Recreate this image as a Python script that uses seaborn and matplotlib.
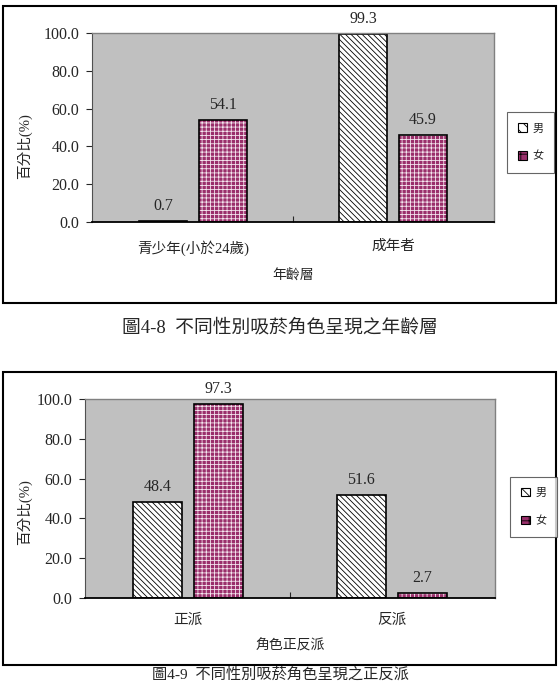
import matplotlib
matplotlib.use("Agg")
import matplotlib.pyplot as plt
from matplotlib.patches import Rectangle, Patch
import seaborn as sns
import pandas as pd

# data
sexes = ["男", "女"]
age_groups = ["青少年(小於24歲)", "成年者"]
age_male = [0.7, 99.3]
age_female = [54.1, 45.9]
role_groups = ["正派", "反派"]
role_male = [48.4, 51.6]
role_female = [97.3, 2.7]
yticks = [0, 20, 40, 60, 80, 100]
xlabels = ["年齡層", "角色正反派"]
ylabel = "百分比(%)"
captions = ["圖4-8  不同性別吸菸角色呈現之年齡層",
            "圖4-9  不同性別吸菸角色呈現之正反派"]

sns.set_style("white")
plt.rcParams["font.family"] = ["Liberation Serif", "Noto Sans CJK TC"]
plt.rcParams["hatch.linewidth"] = 0.6

MALE_HATCH = "\\" * 6
FEMALE_FACE = "#9a2f6b"
FEMALE_HATCH = "++++"
W, H = 560, 682


def fx(px):
    return px / W


def fy(py):
    return 1 - py / H


def draw_panel(ax, groups, male, female, xlabel, ylab_xy, tick_pad):
    df = pd.DataFrame({
        "group": groups * 2,
        "sex": [sexes[0]] * len(groups) + [sexes[1]] * len(groups),
        "pct": male + female,
    })
    sns.barplot(data=df, x="group", y="pct", hue="sex", order=groups,
                hue_order=sexes, palette={"男": "white", "女": FEMALE_FACE},
                width=0.6, gap=0.2, saturation=1, legend=False, ax=ax)

    male_bars, female_bars = ax.containers[0], ax.containers[1]
    for p in male_bars:
        p.set_hatch(MALE_HATCH)
        p.set_edgecolor("black")
        p.set_linewidth(1.2)
    for p in female_bars:
        p.set_hatch(FEMALE_HATCH)
        p.set_edgecolor("#f4e6ee")
        p.set_linewidth(0)
        ax.add_patch(Rectangle(p.get_xy(), p.get_width(), p.get_height(),
                               fill=False, ec="black", lw=1.2, zorder=p.get_zorder() + 0.1))
    for c in (male_bars, female_bars):
        ax.bar_label(c, fmt="%.1f", padding=5, fontsize=11.5)

    ax.set_facecolor("#c0c0c0")
    ax.set_xlim(-0.505, 1.505)
    ax.set_ylim(0, 100)
    ax.set_yticks(yticks)
    ax.set_yticklabels([f"{v:.1f}" for v in yticks], fontsize=11.5)
    ax.tick_params(axis="y", direction="out", length=4, width=0.8, left=True, pad=5)
    ax.tick_params(axis="x", length=0, pad=tick_pad, labelsize=10.5)
    ax.set_xticks([0.5], minor=True)
    ax.tick_params(axis="x", which="minor", direction="in", length=4, width=0.8, bottom=True)
    for s in ("top", "right"):
        ax.spines[s].set_color("#808080")
        ax.spines[s].set_linewidth(1.0)
    ax.spines["left"].set_color("#505050")
    ax.spines["bottom"].set_color("black")
    ax.spines["bottom"].set_linewidth(1.3)

    ax.set_xlabel(xlabel, fontsize=10, labelpad=9)
    ax.set_ylabel(ylabel, fontsize=10.5)
    ax.yaxis.set_label_coords(*ylab_xy)


fig = plt.figure(figsize=(5.6, 6.82), dpi=100)

# chart frames
for top, bottom in [(6, 303), (372, 665)]:
    fig.add_artist(Rectangle((fx(3), fy(bottom)), fx(553), (bottom - top) / H,
                             transform=fig.transFigure, fill=False, ec="black", lw=1.5))

ax1 = fig.add_axes([fx(92), fy(222), fx(402), (222 - 33) / H])
draw_panel(ax1, age_groups, age_male, age_female, xlabels[0], (-0.15, 0.40), 13)

ax2 = fig.add_axes([fx(85), fy(598), fx(410), (598 - 399) / H])
draw_panel(ax2, role_groups, role_male, role_female, xlabels[1], (-0.13, 0.43), 11)

handles = [Patch(facecolor="white", edgecolor="black", hatch="\\\\\\", lw=0.8),
           Patch(facecolor=FEMALE_FACE, edgecolor="black", hatch="++", lw=0.8)]
for cx, cy in [(530.5, 142.5), (533.5, 507)]:
    leg = fig.legend(handles, sexes, loc="center", bbox_to_anchor=(fx(cx), fy(cy)),
                     fontsize=8, frameon=True, fancybox=False, handlelength=0.8,
                     handleheight=0.8, handletextpad=0.5, labelspacing=1.6,
                     borderpad=1.0, edgecolor="#404040")
    leg.get_frame().set_linewidth(0.8)

fig.text(0.5, fy(328), captions[0], ha="center", va="center", fontsize=13.5)
fig.text(0.5, fy(667), captions[1], ha="center", va="top", fontsize=11)

fig.savefig("out.png", dpi=100)
plt.close(fig)
